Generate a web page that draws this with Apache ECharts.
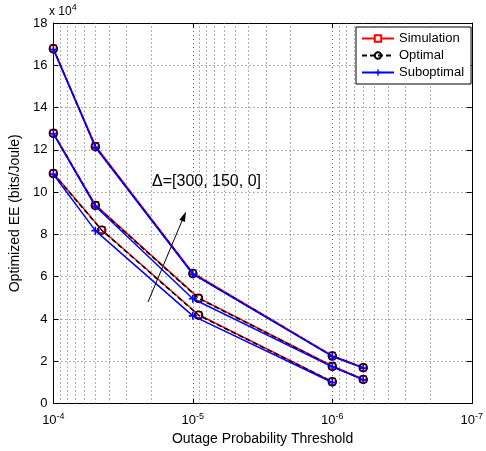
<!DOCTYPE html>
<html>
<head>
<meta charset="utf-8">
<script src="https://cdn.jsdelivr.net/npm/echarts@6/dist/echarts.min.js"></script>
<style>
  html, body { margin: 0; padding: 0; background: #fff; }
  #chart { width: 486px; height: 451px; }
</style>
</head>
<body>
<div id="chart"></div>
<script>
// outage probability thresholds (x) for each curve
const xTop = [1e-4, 5e-5, 1e-5, 1e-6, 6e-7]
const xMidSim = [1e-4, 5e-5, 9.1e-6, 1e-6, 6e-7]
const xMidSub = [1e-4, 5e-5, 1e-5, 1e-6, 6e-7]
const xBotSim = [1e-4, 4.5e-5, 9.1e-6, 1e-6]
const xBotSub = [1e-4, 5e-5, 1e-5, 1e-6]

// optimized EE (bits/Joule), Delta = 0 (top), 150 (mid), 300 (bottom)
const eeTopSim = [168000, 122000, 61800, 22700, 17100]
const eeTopOpt = [167800, 121500, 61500, 22500, 17000]
const eeTopSub = [167500, 121200, 61200, 22300, 16800]
const eeMidSim = [128000, 94000, 50000, 17800, 11500]
const eeMidOpt = [127800, 93700, 49800, 17600, 11400]
const eeMidSub = [127600, 93300, 49600, 17400, 11200]
const eeBotSim = [109000, 82200, 42000, 10400]
const eeBotOpt = [108800, 82000, 41800, 10300]
const eeBotSub = [108500, 81800, 41500, 10000]

// minor log grid positions
const minorX = []
for (let d of [1e-7, 1e-6, 1e-5]) {
  for (let k = 2; k <= 9; k++) minorX.push(k * d)
}

const myChart = echarts.init(document.getElementById('chart'))

const font = 'Liberation Sans, Arial, Helvetica, sans-serif'
const dotted = { color: '#666', type: [1, 3], width: 1 }
const plus = 'path://M4,0H6V4H10V6H6V10H4V6H0V4H4Z'

function pairs (xs, ys) {
  return xs.map((x, i) => [x, ys[i]])
}

function simSeries (xs, ys) {
  return {
    name: 'Simulation', type: 'line', data: pairs(xs, ys),
    symbol: 'rect', symbolSize: 6, showSymbol: true,
    lineStyle: { color: '#ff0000', width: 1.5 },
    itemStyle: { color: '#fff', borderColor: '#ff0000', borderWidth: 1.5 },
    z: 2, animation: false
  }
}
function optSeries (xs, ys) {
  return {
    name: 'Optimal', type: 'line', data: pairs(xs, ys),
    symbol: 'circle', symbolSize: 8,
    lineStyle: { color: '#000', width: 1.5, type: [5, 3] },
    itemStyle: { color: 'rgba(0,0,0,0)', borderColor: '#000', borderWidth: 1.5 },
    z: 3, animation: false
  }
}
function subSeries (xs, ys) {
  return {
    name: 'Suboptimal', type: 'line', data: pairs(xs, ys),
    symbol: plus, symbolSize: 8,
    lineStyle: { color: '#0000ff', width: 1.5 },
    itemStyle: { color: '#0000ff', borderWidth: 0 },
    z: 4, animation: false
  }
}

const series = [
  {
    // minor vertical grid lines of the log axis
    name: 'minorGrid', type: 'custom', silent: true, z: 1,
    data: minorX.map(v => [v, 0]),
    encode: { x: 0, y: 1 },
    renderItem: (params, api) => {
      const p0 = api.coord([api.value(0), 0])
      const p1 = api.coord([api.value(0), 180000])
      const x = Math.round(p0[0]) + 0.5
      return {
        type: 'line',
        shape: { x1: x, y1: p0[1], x2: x, y2: p1[1] },
        style: { stroke: dotted.color, lineDash: [1, 3], lineWidth: 1 }
      }
    }
  },
  simSeries(xTop, eeTopSim), simSeries(xMidSim, eeMidSim), simSeries(xBotSim, eeBotSim),
  optSeries(xTop, eeTopOpt), optSeries(xMidSim, eeMidOpt), optSeries(xBotSim, eeBotOpt),
  subSeries(xTop, eeTopSub), subSeries(xMidSub, eeMidSub), subSeries(xBotSub, eeBotSub)
]

const xBase = {
  type: 'log', logBase: 10, min: 1e-7, max: 1e-4, inverse: true,
  axisLine: { show: true, onZero: false, lineStyle: { color: '#000', width: 1 } },
  axisTick: { show: true, inside: true, length: 5, lineStyle: { color: '#000' } }
}
const yBase = {
  type: 'value', min: 0, max: 180000, interval: 20000,
  axisLine: { show: true, onZero: false, lineStyle: { color: '#000', width: 1 } },
  axisTick: { show: true, inside: true, length: 5, lineStyle: { color: '#000' } }
}

const option = {
  backgroundColor: '#fff',
  animation: false,
  textStyle: { fontFamily: font },
  grid: { left: 49, right: 11, top: 23, bottom: 47 },
  legend: {
    data: ['Simulation', 'Optimal', 'Suboptimal'],
    orient: 'vertical', left: 356, top: 27,
    padding: [5, 7, 5, 5], itemGap: 4, itemWidth: 32, itemHeight: 8,
    backgroundColor: '#fff', borderColor: '#000', borderWidth: 1,
    textStyle: { fontFamily: font, fontSize: 13, color: '#000' }
  },
  xAxis: [
    Object.assign({}, xBase, {
      position: 'bottom',
      name: 'Outage Probability Threshold', nameLocation: 'middle', nameGap: 26,
      nameTextStyle: { fontFamily: font, fontSize: 14, color: '#000' },
      splitLine: { show: true, lineStyle: dotted },
      axisLabel: {
        color: '#000', margin: 8,
        formatter: v => '{b|10}{s|-' + Math.round(-Math.log10(v)) + '}',
        rich: {
          b: { fontFamily: font, fontSize: 13, color: '#000' },
          s: { fontFamily: font, fontSize: 9, color: '#000', padding: [0, 0, 9, 0] }
        }
      }
    }),
    Object.assign({}, xBase, {
      position: 'top', axisLabel: { show: false }, splitLine: { show: false }
    })
  ],
  yAxis: [
    Object.assign({}, yBase, {
      position: 'left',
      name: 'Optimized EE (bits/Joule)', nameLocation: 'middle', nameGap: 28,
      nameTextStyle: { fontFamily: font, fontSize: 14, color: '#000' },
      splitLine: { show: true, lineStyle: dotted },
      axisLabel: {
        color: '#000', fontFamily: font, fontSize: 13, margin: 6,
        formatter: v => String(v / 10000)
      }
    }),
    Object.assign({}, yBase, {
      position: 'right', axisLabel: { show: false }, splitLine: { show: false }
    })
  ],
  graphic: [
    {
      type: 'text', left: 49, top: 3,
      style: {
        text: '{a|x 10}{s|4}',
        rich: {
          a: { fontFamily: font, fontSize: 12, fill: '#000' },
          s: { fontFamily: font, fontSize: 9, fill: '#000', padding: [0, 0, 8, 0] }
        }
      }
    },
    {
      type: 'text', left: 152, top: 174,
      style: { text: '\u0394=[300, 150, 0]', fontFamily: font, fontSize: 16, fill: '#000' }
    },
    {
      type: 'line', z: 10,
      shape: { x1: 148, y1: 302, x2: 184, y2: 216 },
      style: { stroke: '#000', lineWidth: 1 }
    },
    {
      type: 'polygon', z: 10,
      shape: { points: [[186, 211.5], [184.9, 222.1], [179.3, 219.7]] },
      style: { fill: '#000' }
    }
  ],
  series: series
}

myChart.setOption(option, true)
</script>
</body>
</html>
